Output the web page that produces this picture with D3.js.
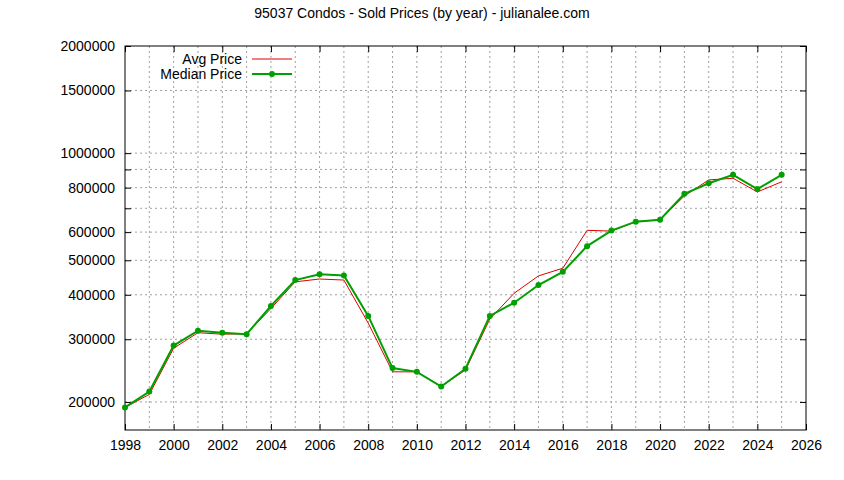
<!DOCTYPE html>
<html>
<head>
<meta charset="utf-8">
<script src="https://cdn.jsdelivr.net/npm/d3@7"></script>
<style>
body { margin: 0; background: #fff; }
svg { font-family: "Liberation Sans", Arial, sans-serif; }
</style>
</head>
<body>
<svg id="chart" width="844" height="480"></svg>
<script>
const years = d3.range(1998, 2026);
const avgPrice = [193000, 210000, 283000, 313000, 310000, 311000, 366000, 435000, 443000, 440000,
    333000, 243000, 243000, 221000, 246000, 342000, 404000, 452000, 475000, 607000,
    604000, 642000, 650000, 758000, 841000, 850000, 778000, 831000];
const medianPrice = [193000, 214000, 288000, 317000, 313000, 310000, 372000, 440000, 457000, 453000,
    349000, 249000, 243000, 221000, 248000, 349000, 380000, 426000, 464000, 548000,
    606000, 642000, 650000, 769000, 823000, 869000, 793000, 869000];
const yTickLabels = [200000, 300000, 400000, 500000, 600000, 800000, 1000000, 1500000, 2000000];
const yGrid = [200000, 300000, 400000, 500000, 600000, 700000, 800000, 900000, 1000000, 1500000, 2000000];
const xTickLabels = d3.range(1998, 2027, 2);

const svg = d3.select("#chart");
const pLeft = 125, pRight = 806, pTop = 46, pBottom = 430;

const x = d3.scaleLinear().domain([1998, 2026]).range([pLeft, pRight]);
const y = d3.scaleLog().domain([166800, 2000000]).range([pBottom, pTop]);

// Title
svg.append("text")
    .attr("x", 422).attr("y", 18)
    .attr("text-anchor", "middle")
    .attr("font-size", 14)
    .text("95037 Condos - Sold Prices (by year) - julianalee.com");

// Grid
const grid = svg.append("g")
    .attr("stroke", "#a0a0a0")
    .attr("stroke-width", 1)
    .attr("stroke-dasharray", "2,3");
grid.selectAll(".gx")
    .data(d3.range(1999, 2026))
    .enter().append("line")
    .attr("x1", d => x(d)).attr("x2", d => x(d))
    .attr("y1", pTop).attr("y2", pBottom);
grid.selectAll(".gy")
    .data(yGrid.slice(0, -1))
    .enter().append("line")
    .attr("x1", pLeft).attr("x2", pRight)
    .attr("y1", d => y(d)).attr("y2", d => y(d));

// Axes (inner ticks, mirrored)
svg.append("g")
    .attr("transform", `translate(0,${pBottom})`)
    .call(d3.axisBottom(x).tickValues(xTickLabels).tickFormat(d3.format("d")).tickSize(-6).tickPadding(10))
    .call(g => g.select(".domain").remove())
    .call(g => g.selectAll("text").attr("font-size", 14).attr("fill", "#000").attr("font-family", "Liberation Sans, Arial, sans-serif"));
svg.append("g")
    .attr("transform", `translate(0,${pTop})`)
    .call(d3.axisTop(x).tickValues(xTickLabels).tickFormat("").tickSize(-6))
    .call(g => g.select(".domain").remove());
svg.append("g")
    .attr("transform", `translate(${pLeft},0)`)
    .call(d3.axisLeft(y).tickValues(yGrid).tickFormat(d => yTickLabels.includes(d) ? d : "").tickSize(-6).tickPadding(10))
    .call(g => g.select(".domain").remove())
    .call(g => g.selectAll("text").attr("font-size", 14).attr("fill", "#000").attr("font-family", "Liberation Sans, Arial, sans-serif"));
svg.append("g")
    .attr("transform", `translate(${pRight},0)`)
    .call(d3.axisRight(y).tickValues(yGrid).tickFormat("").tickSize(-6))
    .call(g => g.select(".domain").remove());

svg.append("rect")
    .attr("x", pLeft).attr("y", pTop)
    .attr("width", pRight - pLeft).attr("height", pBottom - pTop)
    .attr("fill", "none").attr("stroke", "#000");

const avgData = years.map((d, i) => ({ year: d, value: avgPrice[i] }));
const medData = years.map((d, i) => ({ year: d, value: medianPrice[i] }));
const line = d3.line().x(d => x(d.year)).y(d => y(d.value));

svg.append("path")
    .datum(avgData)
    .attr("fill", "none").attr("stroke", "#e00000").attr("stroke-width", 1)
    .attr("d", line);

svg.append("path")
    .datum(medData)
    .attr("fill", "none").attr("stroke", "#00a000").attr("stroke-width", 2)
    .attr("d", line);
svg.selectAll(".dot")
    .data(medData)
    .enter().append("circle")
    .attr("cx", d => x(d.year)).attr("cy", d => y(d.value))
    .attr("r", 3).attr("fill", "#00a000");

// Legend
const legend = svg.append("g").attr("font-size", 14);
legend.append("text").attr("x", 242).attr("y", 64).attr("text-anchor", "end").text("Avg Price");
legend.append("line").attr("x1", 252).attr("x2", 292).attr("y1", 59).attr("y2", 59)
    .attr("stroke", "#e00000").attr("stroke-width", 1);
legend.append("text").attr("x", 242).attr("y", 79).attr("text-anchor", "end").text("Median Price");
legend.append("line").attr("x1", 252).attr("x2", 292).attr("y1", 74).attr("y2", 74)
    .attr("stroke", "#00a000").attr("stroke-width", 2);
legend.append("circle").attr("cx", 272).attr("cy", 74).attr("r", 3).attr("fill", "#00a000");
</script>
</body>
</html>
